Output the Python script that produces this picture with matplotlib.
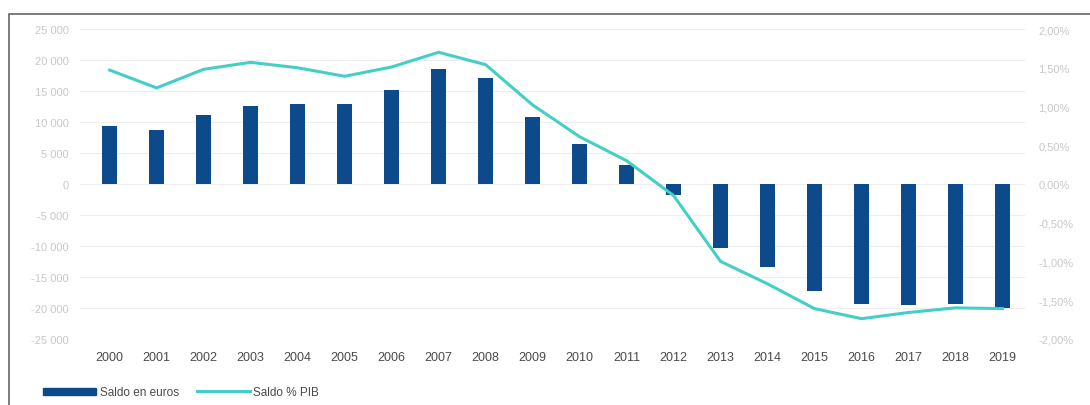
import numpy as np
import matplotlib.pyplot as plt
from matplotlib.patches import Rectangle
from matplotlib.lines import Line2D

plt.rcParams['font.family'] = ['Liberation Sans', 'DejaVu Sans']

years = [str(y) for y in range(2000, 2020)]
saldo_euros = [9400, 8700, 11100, 12600, 12900, 12900, 15200, 18500, 17100, 10800,
               6450, 3100, -1800, -10300, -13400, -17300, -19400, -19500, -19400, -20000]
saldo_pib = [1.47, 1.24, 1.48, 1.57, 1.50, 1.39, 1.51, 1.70, 1.54, 1.02,
             0.61, 0.30, -0.15, -1.00, -1.29, -1.61, -1.74, -1.66, -1.60, -1.61]
left_ticks = list(range(-25000, 25001, 5000))
right_ticks = [-2.0, -1.5, -1.0, -0.5, 0.0, 0.5, 1.0, 1.5, 2.0]

bar_color = '#0c4a8b'
line_color = '#44cfc6'

fig = plt.figure(figsize=(10.9, 4.06), dpi=100)
ax = fig.add_axes([0.073, 0.163, 0.867, 0.763])
x = np.arange(len(years))

for t in left_ticks:
    ax.axhline(t, color='#eeeeee', lw=0.8, zorder=0)
ax.bar(x, saldo_euros, width=0.32, color=bar_color, zorder=2)
ax.set_ylim(-25000, 25000)
ax.set_xlim(-0.64, 19.47)
ax.set_yticks(left_ticks)
ax.set_yticklabels([f"{t:,}".replace(",", " ") for t in left_ticks])
ax.set_xticks(x)
ax.set_xticklabels(years)
ax.tick_params(axis='y', length=0, labelsize=8, labelcolor='#c8c8c8', pad=8)
ax.tick_params(axis='x', length=0, labelsize=9, labelcolor='#4a4a4a', pad=9)
for s in ax.spines.values():
    s.set_visible(False)

ax2 = ax.twinx()
ax2.plot(x, saldo_pib, color=line_color, lw=2.2, zorder=3)
ax2.set_ylim(-2.0, 2.0)
ax2.set_yticks(right_ticks)
ax2.set_yticklabels([f"{t:.2f}%".replace(".", ",") for t in right_ticks])
ax2.tick_params(axis='y', length=0, labelsize=8, labelcolor='#c8c8c8', pad=10)
for s in ax2.spines.values():
    s.set_visible(False)

handles = [Rectangle((0, 0), 1, 1, color=bar_color),
           Line2D([0], [0], color=line_color, lw=2.2)]
fig.legend(handles, ['Saldo en euros', 'Saldo % PIB'], loc='lower left',
           bbox_to_anchor=(0.03, -0.01), ncol=2, frameon=False, fontsize=8.5,
           labelcolor='#4a4a4a', handlelength=4.5, handleheight=0.6,
           columnspacing=1.5, handletextpad=0.3)

fig.add_artist(Rectangle((0.008, -0.01), 1.1, 0.973, transform=fig.transFigure,
                         fill=False, edgecolor='#666666', lw=1.2))

fig.savefig('out.png', dpi=100)
